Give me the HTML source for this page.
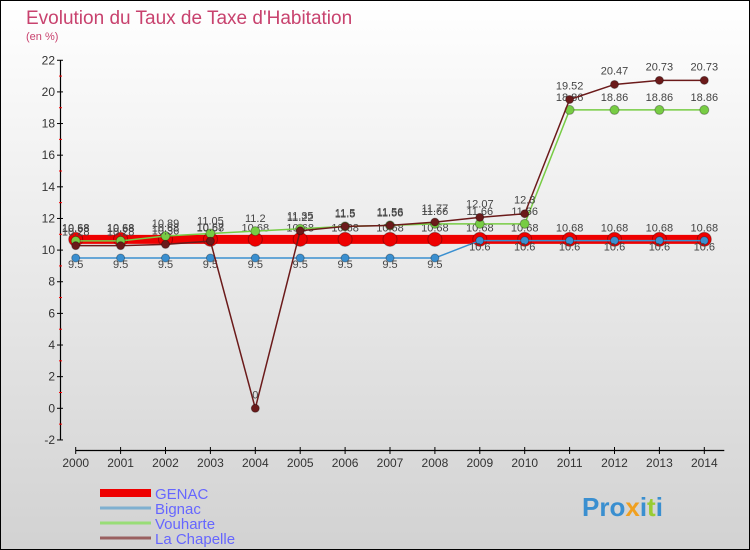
<!DOCTYPE html>
<html><head><meta charset="utf-8"><style>
body{margin:0;width:750px;height:550px;overflow:hidden;font-family:"Liberation Sans",sans-serif}
#c{position:absolute;left:0;top:0;width:748px;height:548px;border:1px solid #000;background:linear-gradient(#ffffff,#d2d2d2)}
</style></head><body>
<div id="c">
<svg id="s" width="750" height="550" style="position:absolute;left:-1px;top:-1px">
<text x="26" y="24" font-size="19" fill="#c8426e">Evolution du Taux de Taxe d'Habitation</text>
<text x="26" y="40" font-size="11" fill="#c8426e">(en %)</text>
<text x="582" y="516" font-size="26" font-weight="bold"><tspan fill="#3a8fd0">Pro</tspan><tspan fill="#f0a020">x</tspan><tspan fill="#3a8fd0">i</tspan><tspan fill="#99cc33">t</tspan><tspan fill="#3a8fd0">i</tspan></text>
</svg>
</div>
<script>
const years=[2000,2001,2002,2003,2004,2005,2006,2007,2008,2009,2010,2011,2012,2013,2014];
const genac=[10.68,10.68,10.68,10.68,10.68,10.68,10.68,10.68,10.68,10.68,10.68,10.68,10.68,10.68,10.68];
const bignac=[9.5,9.5,9.5,9.5,9.5,9.5,9.5,9.5,9.5,10.6,10.6,10.6,10.6,10.6,10.6];
const vouharte=[10.58,10.58,10.89,11.05,11.2,11.35,11.5,11.56,11.66,11.66,11.66,18.86,18.86,18.86,18.86];
const chapelle=[10.28,10.28,10.36,10.57,0,11.22,11.5,11.56,11.77,12.07,12.3,19.52,20.47,20.73,20.73];
const yTicks=[-2,0,2,4,6,8,10,12,14,16,18,20,22];
const NS='http://www.w3.org/2000/svg';
const s=document.getElementById('s');
const X=i=>75.7+i*44.9;
const Y=v=>408.3-v*15.82;
function el(t,a,txt){const e=document.createElementNS(NS,t);for(const k in a)e.setAttribute(k,a[k]);if(txt!==undefined)e.textContent=txt;s.appendChild(e);return e;}
let ax=el('line',{x1:60.5,y1:Y(22),x2:60.5,y2:Y(-2),stroke:'#000','stroke-width':1.2});

yTicks.forEach(v=>{el('line',{x1:57,x2:63,y1:Y(v),y2:Y(v),stroke:'#000'});
const t=el('text',{x:55,y:Y(v)+4,'font-size':12,fill:'#333','text-anchor':'end'},String(v));

if(v<22)el('line',{x1:59,x2:62,y1:Y(v+1),y2:Y(v+1),stroke:'#f00'});});
let xa=el('line',{x1:X(0),y1:450.5,x2:X(14)+20,y2:450.5,stroke:'#000','stroke-width':1.2});

years.forEach((y,i)=>{el('line',{x1:X(i),x2:X(i),y1:447,y2:454,stroke:'#000'});
const t=el('text',{x:X(i),y:467,'font-size':12,fill:'#333','text-anchor':'middle'},String(y));
});
function series(d,col,w,r,name,lab){
const g=document.createElementNS(NS,'g');s.appendChild(g);

const p=document.createElementNS(NS,'polyline');p.setAttribute('points',d.map((v,i)=>X(i)+','+Y(v)).join(' '));
p.setAttribute('fill','none');p.setAttribute('stroke',col);p.setAttribute('stroke-width',w);g.appendChild(p);
d.forEach((v,i)=>{const c=document.createElementNS(NS,'circle');c.setAttribute('cx',X(i));c.setAttribute('cy',Y(v));c.setAttribute('r',r);c.setAttribute('fill',col);c.setAttribute('stroke','rgba(0,0,0,0.3)');g.appendChild(c);
const t=document.createElementNS(NS,'text');t.setAttribute('x',X(i));t.setAttribute('y',Y(v)+lab);t.setAttribute('font-size',11);t.setAttribute('fill','#444');t.setAttribute('text-anchor','middle');t.textContent=String(v);g.appendChild(t);});}
series(genac,'#ee0000',9,7,'series-genac',-8);
series(bignac,'#3a8fd0',1.5,4,'series-bignac',10);
series(vouharte,'#77cc44',1.5,4.5,'series-vouharte',-9);
series(chapelle,'#6b1a1a',1.5,4,'series-la-chapelle',-10);
const leg=[['GENAC','#ee0000',8],['Bignac','#7fb0d0',3],['Vouharte','#99dd77',3],['La Chapelle','#9a6060',3]];
leg.forEach((l,i)=>{const y=493+i*15;
const r=el('rect',{x:100,y:y-l[2]/2,width:51,height:l[2],fill:l[1]});

const t=el('text',{x:155,y:y+6,'font-size':15,fill:'#6666ff'},l[0]);
});
</script>
</body></html>
